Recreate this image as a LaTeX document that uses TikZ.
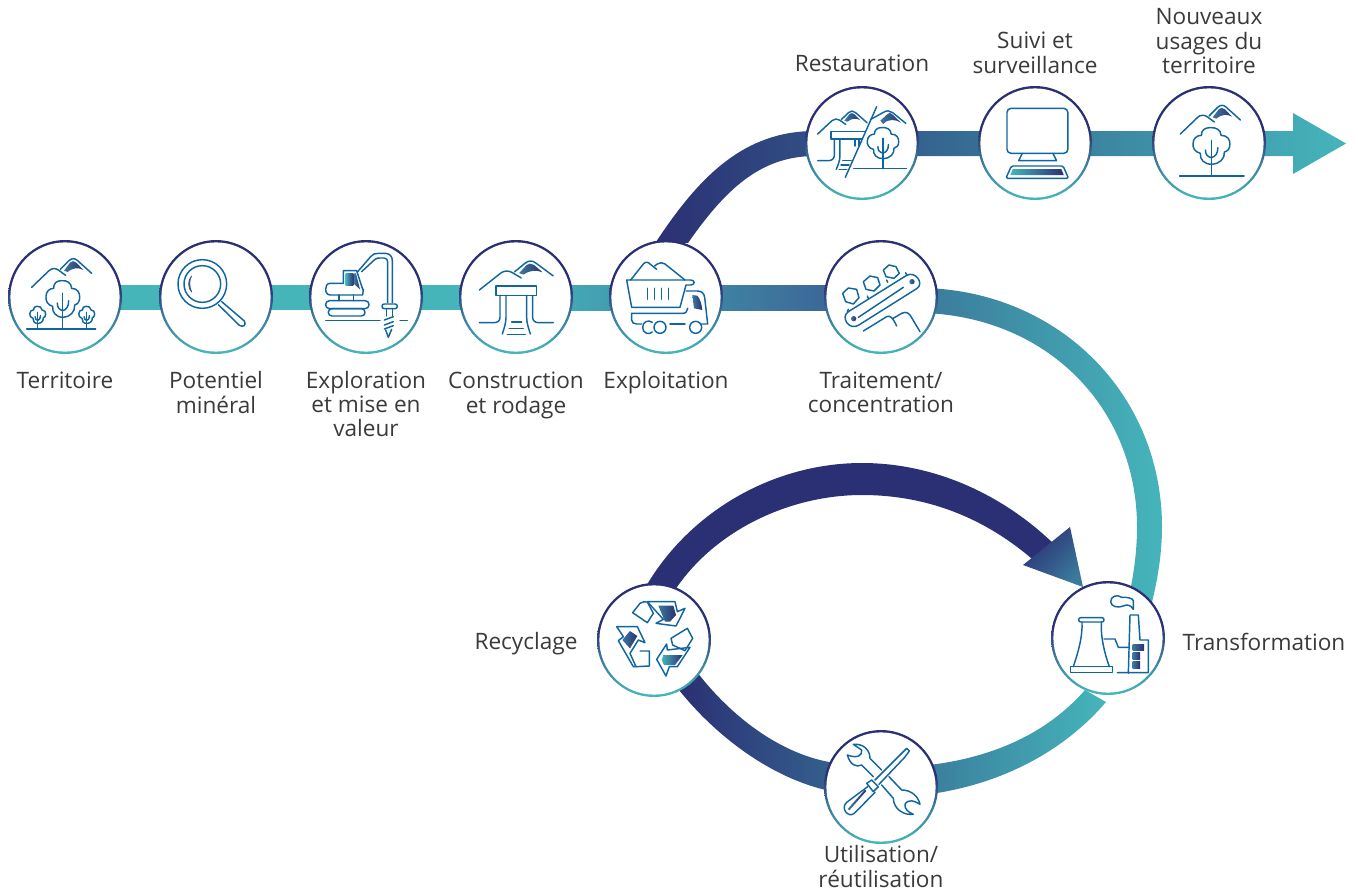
\documentclass[tikz,border=0pt]{standalone}
\usepackage{fontspec}
\setmainfont{Open Sans}
\definecolor{navy}{HTML}{2B3074}
\definecolor{teal1}{HTML}{45B5BA}
\definecolor{midb}{HTML}{3A5A90}
\definecolor{arcb}{HTML}{3B7A9C}
\definecolor{ink}{HTML}{0F659F}
\definecolor{txt}{HTML}{3A3A3A}
\pgfdeclareverticalshading{ringshade}{100bp}{color(0bp)=(teal1); color(26bp)=(teal1); color(42bp)=(arcb); color(55bp)=(navy); color(100bp)=(navy)}
\tikzset{
 ring/.style={circle,minimum size=114pt,inner sep=0pt,shading=ringshade},
 hole/.style={fill=white},
 ic/.style={draw=ink,line width=1.45pt,line join=round,line cap=round},
 gr/.style={left color=teal1,right color=navy},
 gv/.style={left color=arcb,right color=navy},
 lab/.style={text=txt,font=\fontsize{22.6}{24}\selectfont,align=center,inner sep=0pt},
}
\newcommand{\mtn}[4]{\begin{scope}[shift={(#1,#2)},xscale=#3,yscale=#4]
 \draw[ic] (0,0)--(52,-50) .. controls (60,-58) and (72,-58) .. (80,-52)--(102,-36);
 \draw[ic] (86,-54)--(112,-80) .. controls (120,-88) and (130,-88) .. (138,-80)--(180,-42);
 \shade[gv] (97,-50)--(115,-74) .. controls (120,-80) and (128,-80) .. (134,-74)--(155,-52) .. controls (140,-60) and (125,-60) .. (108,-46)--cycle;
\end{scope}}
\newcommand{\treeic}[3]{\begin{scope}[shift={(#1,#2)},scale=#3]
 \draw[ic] (-5,-145) .. controls (14,-147) and (26,-138) .. (27,-122) .. controls (45,-122) and (52,-108) .. (51,-95) .. controls (52,-82) and (44,-74) .. (36,-72) .. controls (38,-52) and (22,-36) .. (2,-35) .. controls (-20,-35) and (-32,-50) .. (-30,-68) .. controls (-45,-72) and (-52,-85) .. (-50,-98) .. controls (-50,-112) and (-40,-122) .. (-27,-122) .. controls (-28,-136) and (-18,-145) .. (-5,-145)--cycle;
 \draw[ic] (0,0)--(0,-107);
 \draw[ic] (0,-55) .. controls (12,-58) and (18,-68) .. (18,-85);
 \draw[ic] (0,-55) .. controls (-12,-58) and (-16,-66) .. (-16,-78);
\end{scope}}
\begin{document}
\begin{tikzpicture}[x=1pt,y=-1pt]
\useasboundingbox (0,0) rectangle (1358,892);
% node positions
\coordinate (ta) at (65,297.5);\coordinate (tb) at (216,297.5);\coordinate (tc) at (366,297.5);\coordinate (td) at (516,297.5);\coordinate (te) at (666,297.5);\coordinate (tf) at (881,297.5);
% bands
\fill[teal1] ([yshift=12.5pt]ta) rectangle ([yshift=-12.5pt]td);
\shade[left color=teal1,right color=midb] ([yshift=12.5pt]td) rectangle ([yshift=-12.5pt]tf);
% upper branch, shaft and arrow
\shade[left color=navy,right color=teal1] (656,242) .. controls (700,175) and (745,131) .. (815,131) -- (1293,131) -- (1293,113) -- (1346,143.5) -- (1293,174) -- (1293,156) -- (815,156) .. controls (760,156) and (725,190) .. (688,243) -- cycle;
% curve to transformation
\shade[left color=arcb,right color=teal1] (925,288) .. controls (1060,292) and (1162,395) .. (1162,527) .. controls (1162,552) and (1158,580) .. (1150,610) -- (1128,600) .. controls (1134,575) and (1137,550) .. (1137,527) .. controls (1137,410) and (1050,318) .. (925,313) -- cycle;
% recycling loop
\fill[navy] (645,588) .. controls (690,510) and (775,463) .. (862,463) .. controls (935,463) and (1005,495) .. (1058,548) -- (1040,566) .. controls (990,520) and (930,495) .. (862,495) .. controls (790,495) and (715,530) .. (675,590) -- cycle;
\shade[top color=navy,bottom color=arcb,shading angle=45] (1070,527) -- (1083,587) -- (1023,565) -- cycle;
\shade[left color=navy,right color=teal1] (697,672) .. controls (730,715) and (780,755) .. (835,763) .. controls (860,766) and (910,768) .. (937,764) .. controls (1000,755) and (1050,730) .. (1085,690) -- (1106,702) .. controls (1065,750) and (1005,782) .. (937,793) .. controls (905,797) and (860,797) .. (830,791) .. controls (770,778) and (715,735) .. (679,690) -- cycle;
% circles
\foreach \n/\x/\y in {a/65/297,b/216/297,c/366/297,d/516/297,e/666/297,f/881/297,g/862/143,h/1035/143,i/1209/143,j/654/640,k/1108/638,l/881/787}{
 \node[ring] (n\n) at (\x,\y) {};
 \fill[hole] (n\n.center) circle (54.6pt);
}
% Territoire
\begin{scope}[shift={(0,230)},scale=0.33333]
 \mtn{95}{172}{1}{1}
 \treeic{188}{297}{1}
 \treeic{113}{297}{.47}
 \treeic{260}{297}{.47}
 \draw[ic] (80,297)--(287,297);
 % Potentiel
 \draw[ic] (607,162) circle (73);
 \draw[ic] (607,162) circle (55);
 \draw[ic] (664,214)--(733,273) .. controls (740,285) and (730,293) .. (718,286)--(655,224);
 \shade[gv] (577,135) .. controls (560,150) and (560,175) .. (578,190) .. controls (568,170) and (568,152) .. (577,135)--cycle;
 % Exploration
 \draw[ic] (1073,125)--(1112,80) .. controls (1118,72) and (1125,70) .. (1135,70)--(1155,70) .. controls (1170,70) and (1177,80) .. (1177,92)--(1177,218);
 \draw[ic] (1085,125)--(1125,88) .. controls (1130,84) and (1135,84) .. (1140,84)--(1152,84) .. controls (1160,84) and (1163,90) .. (1163,96)--(1163,218);
 \draw[ic,rounded corners=2.2pt] (1146,222) rectangle (1192,236);
 \draw[ic] (1160,236)--(1160,258) (1177,236)--(1177,258);
 \draw[ic] (977,272)--(1140,272) (1200,272)--(1222,272);
 \draw[ic] (1153,270)--(1180,260) (1153,285)--(1180,275) (1153,297)--(1180,287);
 \draw[ic] (1157,300)--(1165,322)--(1175,298);
 \draw[ic] (1030,160)--(1030,122)--(1070,122)--(1088,178);
 \draw[ic] (1030,160)--(990,160) .. controls (980,160) and (977,170) .. (977,178) .. controls (977,188) and (982,195) .. (992,195)--(1088,195)--(1090,178);
 \draw[ic] (1017,195)--(1017,212) (1060,195)--(1060,212);
 \draw[ic,rounded corners=3.8pt] (977,212) rectangle (1107,236);
 \draw[ic,rounded corners=3.5pt] (985,236) rectangle (1095,258);
 \shade[gr] (1037,130) rectangle (1060,165);
 \shade[gv] (1062,130)--(1068,130)--(1080,178)--(1062,162)--cycle;
\end{scope}
% Construction, Exploitation, Traitement
\begin{scope}[shift={(440,230)},scale=0.33333]
 \mtn{118}{180}{1.23}{1.01}
 \draw[ic] (168,168) rectangle (290,196);
 \draw[ic] (180,196)--(180,262) .. controls (180,273) and (172,278) .. (162,278)--(118,278);
 \draw[ic] (198,196)--(198,262) .. controls (198,280) and (192,295) .. (187,312);
 \draw[ic] (260,196)--(260,262) .. controls (260,280) and (266,295) .. (271,312);
 \draw[ic] (278,196)--(278,262) .. controls (278,273) and (286,278) .. (296,278)--(340,278);
 \draw[ic] (215,276)--(245,276) (208,295)--(250,295) (202,314)--(256,314);
 % truck
 \draw[ic] (572,150)--(610,102) .. controls (616,95) and (624,95) .. (630,102)--(650,118);
 \draw[ic] (644,108)--(652,102) .. controls (660,97) and (668,97) .. (675,102)--(735,150);
 \draw[ic] (738,165)--(752,165) .. controls (766,165) and (766,150) .. (752,150)--(560,150)--(575,232)--(720,232)--(738,165);
 \draw[ic] (622,175)--(622,208) (643,175)--(643,208) (664,175)--(664,208) (685,175)--(685,208);
 \draw[ic] (738,183)--(772,183) .. controls (785,183) and (792,190) .. (794,202)--(803,282)--(785,282);
 \draw[ic] (575,250)--(728,250) .. controls (738,250) and (742,244) .. (743,235);
 \draw[ic] (575,250)--(575,270) .. controls (575,278) and (582,282) .. (590,282)--(605,282);
 \draw[ic] (637,277) .. controls (625,268) and (608,275) .. (608,292) .. controls (608,310) and (627,316) .. (637,306);
 \draw[ic] (660,292) circle (18);
 \draw[ic] (690,282)--(735,282);
 \draw[ic] (767,292) circle (18);
 \shade[gv] (757,195)--(772,197) .. controls (780,205) and (785,222) .. (787,240)--(762,235)--cycle;
 % conveyor
 \draw[ic] (1225,245)--(1400,136) .. controls (1425,122) and (1455,160) .. (1430,176)--(1255,286) .. controls (1228,302) and (1200,262) .. (1225,245)--cycle;
 \shade[gv] (1241,266) circle (8);
 \shade[gv] (1416,155) circle (8);
 \draw[ic] (1255,262)--(1390,172);
 \draw[ic] (1208,190)--(1225,174)--(1250,178)--(1257,203)--(1240,222)--(1217,215)--cycle;
 \draw[ic] (1270,155)--(1290,138)--(1313,143)--(1320,165)--(1302,183)--(1278,178)--cycle;
 \draw[ic] (1330,120)--(1347,105)--(1368,110)--(1378,130)--(1362,145)--(1338,140)--cycle;
 \draw[ic] (1225,238)--(1222,245) (1282,198)--(1285,205) (1340,150)--(1343,157) (1397,128)--(1400,135);
 \draw[ic] (1270,303)--(1340,260) .. controls (1350,255) and (1358,262) .. (1370,288);
 \draw[ic] (1358,266)--(1385,250) .. controls (1398,244) and (1405,248) .. (1412,258)--(1440,305);
\end{scope}
% Restauration, Suivi, Nouveaux
\begin{scope}[shift={(790,70)},xscale=0.3641,yscale=0.33333]
 \mtn{76}{192}{.755}{.8}
 \draw[ic] (222,148)--(255,128) .. controls (265,120) and (275,122) .. (282,128)--(318,160);
 \shade[gv] (248,152)--(268,132) .. controls (272,128) and (276,128) .. (280,132)--(305,158) .. controls (290,148) and (270,145) .. (256,162)--cycle;
 \draw[ic] (238,110)--(152,322);
 \draw[ic] (205,185)--(113,185)--(113,207)--(197,207);
 \draw[ic] (122,207)--(122,255) .. controls (122,266) and (115,272) .. (105,272)--(76,272);
 \draw[ic] (137,207)--(137,260) .. controls (137,272) and (132,285) .. (127,298);
 \draw[ic] (178,207)--(178,228) (190,207)--(190,228);
 \draw[ic] (145,272)--(168,272) (140,285)--(162,285) (135,298)--(156,298);
 \draw[ic] (175,296)--(320,296);
 \treeic{255}{296}{.85}
 % Suivi
 \draw[ic,rounded corners=4pt] (596,115) rectangle (763,250);
 \draw[ic] (638,250)--(628,272)--(732,272)--(722,250);
 \draw[ic,rounded corners=1.5pt] (608,288)--(750,288)--(765,325)--(593,325)--cycle;
 \shade[gr] (612,297)--(745,297)--(752,315)--(605,315)--cycle;
 % Nouveaux
 \mtn{1072}{192}{.916}{1}
 \treeic{1157}{318}{1}
 \draw[ic] (1070,318)--(1247,318);
\end{scope}
% Recyclage
\begin{scope}[shift={(590,570)},scale=0.33333]
 \draw[ic] (128,128)--(150,100) .. controls (155,95) and (165,95) .. (172,96)--(190,130)--(172,158)--cycle;
 \draw[ic] (172,95)--(255,95)--(262,125)--(285,115)--(258,168)--(198,160)--(220,148)--cycle;
 \shade[gv] (205,107)--(250,107)--(258,135)--(240,155)--(225,155)--cycle;
 \draw[ic] (80,170)--(142,170)--(165,218)--(145,210)--(120,250)--(138,290)--(130,290)--(85,212)--(100,200)--cycle;
 \draw[ic] (150,243)--(178,243)--(178,288)--(138,290);
 \shade[gv] (120,183)--(142,198)--(120,235)--(97,210)--cycle;
 \draw[ic] (243,205)--(292,175)--(308,205)--(285,242)--(248,225)--cycle;
 \draw[ic] (300,232)--(262,290)--(238,290)--(228,318)--(200,268)--(230,222)--(232,240)--cycle;
 \shade[gr] (220,255)--(278,255)--(255,285)--(222,285)--(215,270)--cycle;
\end{scope}
% Transformation
\begin{scope}[shift={(1040,570)},scale=0.33333]
 \draw[ic,rounded corners=2pt] (116,143) rectangle (192,156);
 \draw[ic] (126,156) .. controls (128,200) and (115,245) .. (100,290);
 \draw[ic] (184,156) .. controls (182,200) and (192,245) .. (208,290);
 \draw[ic] (92,290) rectangle (217,308);
 \draw[ic] (192,207)--(225,207)--(235,232)--(265,232);
 \draw[ic] (265,310)--(270,135)--(295,135)--(300,210)--(325,210)--(325,308)--(232,308);
 \shade[gv] (278,222) rectangle (312,242);
 \shade[gv] (278,248) rectangle (300,268);
 \shade[gv] (278,275) rectangle (300,295);
 \draw[ic] (280,118) .. controls (272,105) and (262,102) .. (250,108) .. controls (235,115) and (212,110) .. (212,95) .. controls (212,78) and (232,72) .. (245,82) .. controls (258,80) and (280,85) .. (280,92)--cycle;
\end{scope}
% Utilisation
\begin{scope}[shift={(815,715)},scale=0.33333]
 \draw[ic] (258,117)--(275,100)--(283,108)--(268,128);
 \draw[ic] (258,117)--(180,195) (268,128)--(192,208);
 \draw[ic] (155,205)--(170,195)--(190,215)--(175,230)--cycle;
 \draw[ic] (158,215)--(95,262) .. controls (75,280) and (100,310) .. (118,295)--(180,232);
 \shade[gv] (98,282)--(150,224)--(154,228)--(103,286)--cycle;
 \draw[ic] (200,165)--(165,130) .. controls (165,105) and (145,85) .. (115,88)--(140,105) .. controls (142,120) and (130,132) .. (97,120) .. controls (105,150) and (125,158) .. (140,150)--(175,185);
 \draw[ic] (222,185)--(260,225) .. controls (290,225) and (310,245) .. (315,268) .. controls (300,258) and (280,250) .. (270,268) .. controls (268,282) and (280,292) .. (295,298) .. controls (265,302) and (235,280) .. (235,250)--(200,210);
\end{scope}
% labels
\node[lab] (la) at (65,384) {\strut Territoire};
\node[lab] (lb) at (216,396) {\strut Potentiel\\\strut minéral};
\node[lab] (lc) at (366,408) {\strut Exploration\\et mise en\\\strut valeur};
\node[lab] (ld) at (516,396) {\strut Construction\\\strut et rodage};
\node[lab] (le) at (666,384) {\strut Exploitation};
\node[lab] (lf) at (881,396) {\strut Traitement/\\\strut concentration};
\node[lab] (lg) at (862,67) {\strut Restauration};
\node[lab] (lh) at (1035,56) {\strut Suivi et\\\strut surveillance};
\node[lab] (li) at (1209,44) {\strut Nouveaux\\usages du\\\strut territoire};
\node[lab] (lj) at (526,645) {\strut Recyclage};
\node[lab] (lk) at (1264,645) {\strut Transformation};
\node[lab] (ll) at (881,870) {\strut Utilisation/\\\strut réutilisation};
\end{tikzpicture}
\end{document}
